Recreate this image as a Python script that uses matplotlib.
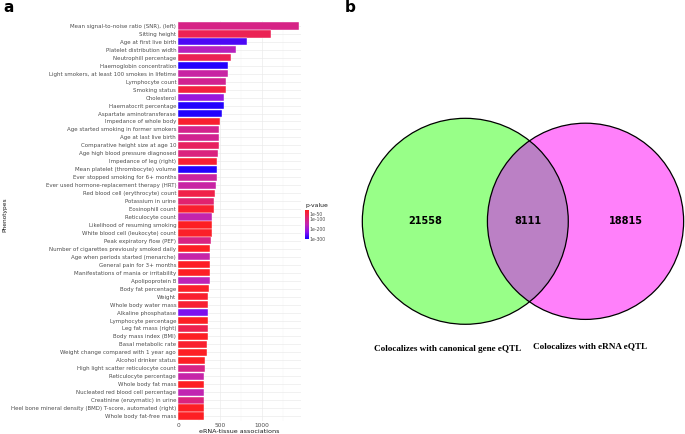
import numpy as np
import matplotlib
matplotlib.use("Agg")
import matplotlib.pyplot as plt
from matplotlib.colors import LinearSegmentedColormap, Normalize
from matplotlib.patches import Circle

# ---- panel a data ----
phenotypes = [
    "Mean signal-to-noise ratio (SNR), (left)", "Sitting height", "Age at first live birth",
    "Platelet distribution width", "Neutrophill percentage", "Haemoglobin concentration",
    "Light smokers, at least 100 smokes in lifetime", "Lymphocyte count", "Smoking status",
    "Cholesterol", "Haematocrit percentage", "Aspartate aminotransferase",
    "Impedance of whole body", "Age started smoking in former smokers", "Age at last live birth",
    "Comparative height size at age 10", "Age high blood pressure diagnosed", "Impedance of leg (right)",
    "Mean platelet (thrombocyte) volume", "Ever stopped smoking for 6+ months",
    "Ever used hormone-replacement therapy (HRT)", "Red blood cell (erythrocyte) count",
    "Potassium in urine", "Eosinophill count", "Reticulocyte count", "Likelihood of resuming smoking",
    "White blood cell (leukocyte) count", "Peak expiratory flow (PEF)",
    "Number of cigarettes previously smoked daily", "Age when periods started (menarche)",
    "General pain for 3+ months", "Manifestations of mania or irritability", "Apolipoprotein B",
    "Body fat percentage", "Weight", "Whole body water mass", "Alkaline phosphatase",
    "Lymphocyte percentage", "Leg fat mass (right)", "Body mass index (BMI)", "Basal metabolic rate",
    "Weight change compared with 1 year ago", "Alcohol drinker status",
    "High light scatter reticulocyte count", "Reticulocyte percentage", "Whole body fat mass",
    "Nucleated red blood cell percentage", "Creatinine (enzymatic) in urine",
    "Heel bone mineral density (BMD) T-score, automated (right)", "Whole body fat-free mass",
]
associations = [
    1450, 1117, 824, 687, 635, 595, 590, 575, 566, 547, 543, 523,
    502, 490, 490, 486, 478, 466, 462, 458, 454, 442, 426, 422, 410,
    402, 402, 390, 386, 382, 382, 382, 382, 366, 362, 358, 356, 354,
    352, 352, 350, 342, 326, 322, 314, 310, 310, 310, 306, 306,
]
log10_p = [
    -110, -60, -270, -170, -60, -295, -140, -120, -40, -210, -295, -295,
    -25, -115, -120, -70, -100, -30, -295, -135, -140, -50, -85, -25, -150,
    -15, -20, -105, -15, -145, -15, -15, -160, -20, -25, -30, -240, -15,
    -55, -15, -25, -15, -15, -110, -145, -15, -155, -100, -15, -15,
]
p_ticks = [-50, -100, -200, -300]
p_tick_labels = ["1e-50", "1e-100", "1e-200", "1e-300"]

# ---- panel b data ----
only_canonical = 21558
shared = 8111
only_erna = 18815
set_names = ["Colocalizes with canonical gene eQTL", "Colocalizes with eRNA eQTL"]

W, H = 685, 434
fig = plt.figure(figsize=(W / 100, H / 100), dpi=100)


def box(x0, y0, x1, y1):
    # pixel box (top-left origin) -> figure fraction
    return [x0 / W, 1 - y1 / H, (x1 - x0) / W, (y1 - y0) / H]


cmap = LinearSegmentedColormap.from_list(
    "pval", ["#1400ff", "#8a12ec", "#c024b4", "#e2236e", "#ff1f1f"])
norm = Normalize(vmin=-305, vmax=-10)

ax = fig.add_axes(box(178.3, 21.2, 300.5, 420.8))
n = len(phenotypes)
ypos = np.arange(n)
ax.barh(ypos, associations, height=0.9, color=cmap(norm(np.array(log10_p))),
        edgecolor="#ffffff", linewidth=0.3, zorder=3)
ax.set_ylim(n - 0.4, -0.6)
ax.set_xlim(0, 1465)
ax.set_yticks(ypos)
ax.set_yticklabels(phenotypes, fontsize=3.95, color="#4d4d4d")
ax.set_xticks([0, 500, 1000])
ax.set_xticks([250, 750, 1250], minor=True)
ax.tick_params(axis="x", labelsize=4.2, colors="#4d4d4d", length=0, pad=1.5, which="both")
ax.tick_params(axis="y", length=0, pad=1.5)
ax.grid(True, which="major", color="#ebebeb", linewidth=0.5, zorder=0)
ax.grid(True, which="minor", axis="x", color="#f4f4f4", linewidth=0.3, zorder=0)
for s in ax.spines.values():
    s.set_visible(False)
ax.set_xlabel("eRNA-tissue associations", fontsize=4.6, color="#1a1a1a", labelpad=1)
fig.text(4.7 / W, 1 - 215 / H, "Phenotypes", rotation=90, fontsize=4.2,
         color="#1a1a1a", ha="center", va="center")

# colourbar
cax = fig.add_axes(box(305.3, 210, 308.5, 239.3))
sm = plt.cm.ScalarMappable(norm=norm, cmap=cmap)
cb = fig.colorbar(sm, cax=cax)
cb.outline.set_visible(False)
cb.set_ticks(p_ticks)
cb.set_ticklabels(p_tick_labels)
cax.tick_params(labelsize=3.3, length=0, pad=1, colors="#4d4d4d")
fig.text(305 / W, 1 - 205.5 / H, "p-value", fontsize=4.4, color="#1a1a1a",
         ha="left", va="center")

fig.text(3 / W, 1 - 8 / H, "a", fontsize=11, fontweight="bold", ha="left", va="center")
fig.text(345 / W, 1 - 8 / H, "b", fontsize=11, fontweight="bold", ha="left", va="center")

# ---- panel b: area-proportional Venn ----
vax = fig.add_axes([0, 0, 1, 1])
vax.set_xlim(0, W)
vax.set_ylim(H, 0)
vax.axis("off")

px_per_count = 1.123
total_left = only_canonical + shared
total_right = only_erna + shared
r1 = np.sqrt(total_left * px_per_count / np.pi)
r2 = np.sqrt(total_right * px_per_count / np.pi)
target = shared * px_per_count


def lens_area(d):
    a1 = (d ** 2 + r1 ** 2 - r2 ** 2) / (2 * d)
    a2 = d - a1
    s1 = r1 ** 2 * np.arccos(a1 / r1) - a1 * np.sqrt(r1 ** 2 - a1 ** 2)
    s2 = r2 ** 2 * np.arccos(a2 / r2) - a2 * np.sqrt(r2 ** 2 - a2 ** 2)
    return s1 + s2


lo, hi = abs(r1 - r2) + 1e-6, r1 + r2 - 1e-6
for _ in range(80):
    mid = (lo + hi) / 2
    if lens_area(mid) > target:
        lo = mid
    else:
        hi = mid
dist = (lo + hi) / 2

cx1, cy = 465.3, 221.3
cx2 = cx1 + dist
c1 = Circle((cx1, cy), r1, facecolor="#98ff88", edgecolor="none", zorder=1)
c2 = Circle((cx2, cy), r2, facecolor="#ff80fa", edgecolor="none", zorder=1)
vax.add_patch(c1)
vax.add_patch(c2)
lens = Circle((cx2, cy), r2, facecolor="#bb80c5", edgecolor="none", zorder=2)
vax.add_patch(lens)
lens.set_clip_path(c1)
vax.add_patch(Circle((cx1, cy), r1, facecolor="none", edgecolor="black", linewidth=0.9, zorder=3))
vax.add_patch(Circle((cx2, cy), r2, facecolor="none", edgecolor="black", linewidth=0.9, zorder=3))

left_edge, lens_l, lens_r, right_edge = cx1 - r1, cx2 - r2, cx1 + r1, cx2 + r2
num_kw = dict(fontsize=7, fontweight="bold", ha="center", va="center", zorder=4)
vax.text((left_edge + lens_l) / 2, cy, str(only_canonical), **num_kw)
vax.text((lens_l + lens_r) / 2, cy, str(shared), **num_kw)
vax.text((lens_r + right_edge) / 2, cy, str(only_erna), **num_kw)

lab_kw = dict(fontsize=6.6, fontweight="bold", family="Liberation Serif", ha="center", va="center")
vax.text(cx1 - 17.8, cy + r1 + 24.7, set_names[0], **lab_kw)
vax.text(cx2 + 4.4, cy + r2 + 26.4, set_names[1], **lab_kw)

fig.savefig("out.png", dpi=100)
